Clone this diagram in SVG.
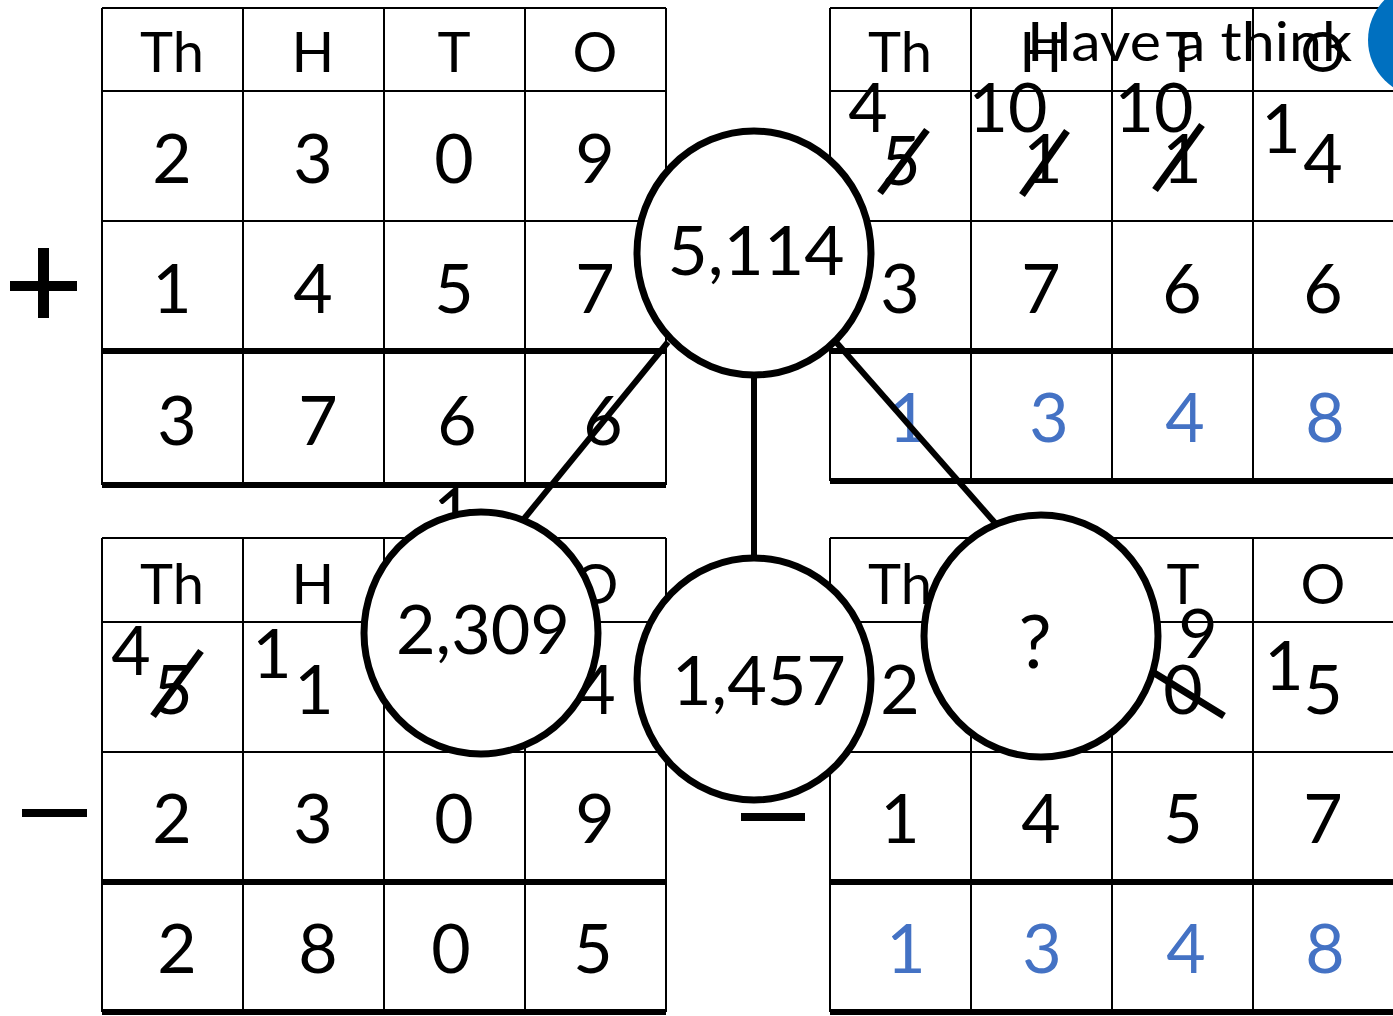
<svg xmlns="http://www.w3.org/2000/svg" width="1393" height="1016" viewBox="0 0 1393 1016">
<style>
  .thin{stroke:#000;stroke-width:2;fill:none}
  .thick{stroke:#000;stroke-width:6;fill:none}
  .hd{font-family:Lato,"Liberation Sans",sans-serif;font-size:56px;fill:#000;text-anchor:middle}
  .dg{font-family:Lato,"Liberation Sans",sans-serif;font-size:68px;fill:#000;text-anchor:middle}
  .bl{fill:#4472C4}
  .slash{stroke:#000;stroke-width:7}
  .node ellipse{fill:#fff;stroke:#000;stroke-width:7}
  .conn line{stroke:#000;stroke-width:6}
</style>

<rect width="1393" height="1016" fill="#fff"/>

<!-- Top-left table (addition) -->
<g id="table-tl">
  <path class="thin" d="M102 8H666M102 91H666M102 221H666M102 8V485M243 8V485M384 8V485M525 8V485M666 8V485"/>
  <path class="thick" d="M102 351H666M102 485H666"/>
  <text class="hd" x="172" y="72">Th</text><text class="hd" x="313" y="72">H</text><text class="hd" x="454" y="72">T</text><text class="hd" x="595" y="72">O</text>
  <text class="dg" x="172" y="183">2</text><text class="dg" x="313" y="183">3</text><text class="dg" x="454" y="183">0</text><text class="dg" x="595" y="183">9</text>
  <text class="dg" x="172" y="313">1</text><text class="dg" x="313" y="313">4</text><text class="dg" x="454" y="313">5</text><text class="dg" x="595" y="313">7</text>
  <text class="dg" x="177" y="445">3</text><text class="dg" x="318" y="445">7</text><text class="dg" x="457" y="445">6</text><text class="dg" x="603" y="445">6</text>
  <text class="dg" x="453" y="537">1</text>
</g>
<g id="plus">
  <rect x="38" y="248" width="11" height="70" fill="#000"/>
  <rect x="10" y="281" width="67" height="10" fill="#000"/>
</g>

<!-- Top-right table (subtraction working) -->
<g id="table-tr">
  <path class="thin" d="M830 8H1394M830 91H1394M830 221H1394M830 8V481M971 8V481M1112 8V481M1253 8V481"/>
  <path class="thick" d="M830 351H1394M830 481H1394"/>
  <text class="hd" x="900" y="72">Th</text><text class="hd" x="1041" y="72">H</text><text class="hd" x="1182" y="72">T</text><text class="hd" x="1323" y="72">O</text>
  <text class="dg" x="868" y="132">4</text><text class="dg" x="901" y="185">5</text>
  <line class="slash" x1="880" y1="193" x2="927" y2="130"/>
  <text class="dg" x="1008" y="132">10</text><text class="dg" x="1043" y="183">1</text>
  <line class="slash" x1="1022" y1="195" x2="1067" y2="131"/>
  <text class="dg" x="1154" y="132">10</text><text class="dg" x="1182" y="183">1</text>
  <line class="slash" x1="1155" y1="190" x2="1202" y2="125"/>
  <text class="dg" x="1281" y="153">1</text><text class="dg" x="1323" y="183">4</text>
  <text class="dg" x="900" y="313">3</text><text class="dg" x="1041" y="313">7</text><text class="dg" x="1182" y="313">6</text><text class="dg" x="1323" y="313">6</text>
  <text class="dg bl" x="908" y="442">1</text><text class="dg bl" x="1049" y="442">3</text><text class="dg bl" x="1185" y="442">4</text><text class="dg bl" x="1325" y="442">8</text>
</g>

<!-- Bottom-left table -->
<g id="table-bl">
  <path class="thin" d="M102 538H666M102 622H666M102 752H666M102 538V1012M243 538V1012M384 538V1012M525 538V1012M666 538V1012"/>
  <path class="thick" d="M102 882H666M102 1012H666"/>
  <text class="hd" x="172" y="604">Th</text><text class="hd" x="313" y="604">H</text><text class="hd" x="596" y="604">O</text>
  <text class="dg" x="131" y="675">4</text><text class="dg" x="173" y="714">5</text>
  <line class="slash" x1="153" y1="716" x2="201" y2="651"/>
  <text class="dg" x="272" y="678">1</text><text class="dg" x="314" y="714">1</text>
  <text class="dg" x="596" y="714">4</text>
  <text class="dg" x="172" y="843">2</text><text class="dg" x="313" y="843">3</text><text class="dg" x="454" y="843">0</text><text class="dg" x="595" y="843">9</text>
  <text class="dg" x="177" y="973">2</text><text class="dg" x="318" y="973">8</text><text class="dg" x="451" y="973">0</text><text class="dg" x="593" y="973">5</text>
</g>
<g id="minus-bl"><rect x="22" y="809" width="65" height="8" fill="#000"/></g>

<!-- Bottom-right table -->
<g id="table-br">
  <path class="thin" d="M830 538H1394M830 622H1394M830 752H1394M830 538V1012M971 538V1012M1112 538V1012M1253 538V1012"/>
  <path class="thick" d="M830 882H1394M830 1012H1394"/>
  <text class="hd" x="900" y="604">Th</text><text class="hd" x="1183" y="604">T</text><text class="hd" x="1323" y="604">O</text>
  <text class="dg" x="900" y="714">2</text>
  <text class="dg" x="1198" y="658">9</text><text class="dg" x="1183" y="714">0</text>
  <line class="slash" x1="1130" y1="658" x2="1224" y2="716"/>
  <text class="dg" x="1284" y="690">1</text><text class="dg" x="1323" y="714">5</text>
  <text class="dg" x="900" y="843">1</text><text class="dg" x="1041" y="843">4</text><text class="dg" x="1183" y="843">5</text><text class="dg" x="1323" y="843">7</text>
  <text class="dg bl" x="906" y="973">1</text><text class="dg bl" x="1042" y="973">3</text><text class="dg bl" x="1186" y="973">4</text><text class="dg bl" x="1325" y="973">8</text>
</g>
<g id="minus-br"><rect x="741" y="813" width="64" height="8" fill="#000"/></g>

<!-- Connectors -->
<g id="connectors" class="conn">
  <line x1="668" y1="342" x2="523" y2="520"/>
  <line x1="754" y1="375" x2="754" y2="558"/>
  <line x1="836" y1="342" x2="996" y2="524"/>
</g>

<!-- Nodes -->
<g id="node-5114" class="node">
  <ellipse cx="754" cy="253" rx="117" ry="122"/>
  <text class="dg" x="756" y="275" textLength="177" lengthAdjust="spacingAndGlyphs">5,114</text>
</g>
<g id="node-2309" class="node">
  <ellipse cx="481" cy="633" rx="117" ry="121"/>
  <text class="dg" x="483" y="654" textLength="174" lengthAdjust="spacingAndGlyphs">2,309</text>
</g>
<g id="node-1457" class="node">
  <ellipse cx="754" cy="679" rx="117" ry="121"/>
  <text class="dg" x="759" y="705" textLength="174" lengthAdjust="spacingAndGlyphs">1,457</text>
</g>
<g id="node-unknown" class="node">
  <ellipse cx="1041" cy="636" rx="117" ry="121"/>
  <text class="dg" x="1035" y="668" style="font-size:74px">?</text>
</g>

<!-- Have a think -->
<g id="have-a-think">
  <text x="1027" y="61" font-family="Lato,'Liberation Sans',sans-serif" font-size="54" fill="#000" textLength="325" lengthAdjust="spacingAndGlyphs">Have a think</text>
  <circle cx="1425" cy="40" r="57" fill="#0070C0"/>
</g>
</svg>
